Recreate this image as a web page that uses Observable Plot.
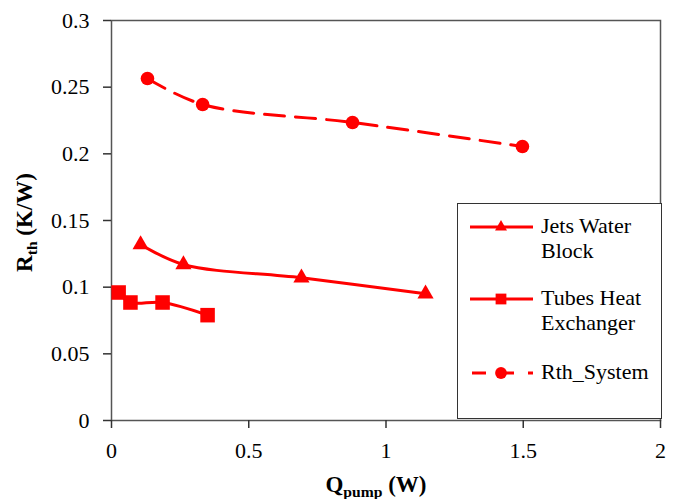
<!DOCTYPE html>
<html>
<head>
<meta charset="utf-8">
<script src="https://cdn.jsdelivr.net/npm/d3@7"></script>
<script src="https://cdn.jsdelivr.net/npm/@observablehq/plot@0.6"></script>
<style>
  html, body { margin: 0; padding: 0; background: #fff; font-family: "Liberation Serif"; }
  #wrap { position: relative; width: 673px; height: 499px; font-family: "Liberation Serif"; color: #000; }
  #wrap svg text { font-family: "Liberation Serif"; }
  .ttl { position: absolute; font-weight: bold; font-size: 23px; line-height: 25px; white-space: nowrap; text-align: center; }
  .sub { font-size: 0.68em; position: relative; top: 5px; }
  #legend { position: absolute; left: 457px; top: 203px; width: 205px; height: 216px; box-sizing: border-box;
            border: 1.5px solid #333; background: #fff; }
  #legend .lt { position: absolute; left: 83px; font-size: 22px; line-height: 25px; white-space: nowrap; }
  #legend svg { position: absolute; left: 0; top: 0; }
</style>
</head>
<body>
<div id="wrap"></div>
<script>
// ---- data ----
const jetsQ = [0.106, 0.262, 0.692, 1.144];
const jetsR = [0.132, 0.117, 0.107, 0.095];
const tubesQ = [0.026, 0.069, 0.186, 0.350];
const tubesR = [0.096, 0.0885, 0.0885, 0.079];
const sysQ = [0.131, 0.332, 0.878, 1.497];
const sysR = [0.2565, 0.237, 0.2235, 0.2055];
const seriesNames = ["Jets Water Block", "Tubes Heat Exchanger", "Rth_System"];
const legendLines = [["Jets Water", "Block"], ["Tubes Heat", "Exchanger"], ["Rth_System"]];
const xTicks = [0, 0.5, 1, 1.5, 2];
const yTicks = [0, 0.05, 0.1, 0.15, 0.2, 0.25, 0.3];
const xLabel = ["Q", "pump", " (W)"];
const yLabel = ["R", "th", " (K/W)"];

const toRows = (q, r, s) => q.map((v, i) => ({q: v, r: r[i], s}));
const jets = toRows(jetsQ, jetsR, seriesNames[0]);
const tubes = toRows(tubesQ, tubesR, seriesNames[1]);
const sys = toRows(sysQ, sysR, seriesNames[2]);

const RED = "#ff0000";
const FONT = "Liberation Serif";
const wrap = d3.select("#wrap");

const plot = Plot.plot({
  width: 673, height: 499,
  marginLeft: 111, marginRight: 13, marginTop: 20, marginBottom: 79,
  style: {fontFamily: FONT, fontSize: "22px"},
  x: {domain: [0, 2], ticks: xTicks},
  y: {domain: [0, 0.3], ticks: yTicks},
  marks: [
    Plot.frame({stroke: "#555", strokeWidth: 1.5}),
    Plot.axisX({ticks: xTicks, tickSize: 8, tickPadding: 14, fontSize: 22, label: null, stroke: "#333", strokeWidth: 1.5, tickFormat: d => String(d)}),
    Plot.axisY({ticks: yTicks, tickSize: 8, tickPadding: 14, fontSize: 22, label: null, stroke: "#333", strokeWidth: 1.5, tickFormat: d => String(+d.toFixed(2))}),
    Plot.line(sys, {x: "q", y: "r", stroke: RED, strokeWidth: 3, strokeDasharray: "20,11", curve: "catmull-rom"}),
    Plot.line(jets, {x: "q", y: "r", stroke: RED, strokeWidth: 3, curve: "catmull-rom"}),
    Plot.line(tubes, {x: "q", y: "r", stroke: RED, strokeWidth: 3, curve: "catmull-rom"}),
    Plot.dot(sys, {x: "q", y: "r", fill: RED, r: 6.8, symbol: "circle"}),
    Plot.dot(jets, {x: "q", y: "r", fill: RED, r: 6, symbol: "triangle"}),
    Plot.dot(tubes, {x: "q", y: "r", fill: RED, r: 8.2, symbol: "square"})
  ]
});
wrap.node().appendChild(plot);

// axis titles (HTML, with subscripts)
function title(parts) {
  const d = wrap.append("div").attr("class", "ttl");
  d.append("span").text(parts[0]);
  d.append("span").attr("class", "sub").text(parts[1]);
  d.append("span").text(parts[2]);
  return d;
}
title(xLabel).style("left", "276px").style("width", "200px").style("top", "472px");
title(yLabel).style("left", "-75px").style("width", "200px").style("top", "209px")
  .style("transform", "rotate(-90deg)");

// legend
const lg = wrap.append("div").attr("id", "legend");
const ls = lg.append("svg").attr("width", 205).attr("height", 216);
const rowsY = [23, 95, 169];
const syms = [d3.symbolTriangle, d3.symbolSquare, d3.symbolCircle];
const symSize = [Math.PI * 36 * 0.55, Math.PI * 8.2 * 8.2 * 0.55, Math.PI * 6.8 * 6.8 * 0.75];
const dashes = [null, null, "14,14"];
rowsY.forEach((y, i) => {
  const ln = ls.append("line").attr("x1", 12).attr("x2", 75).attr("y1", y).attr("y2", y)
    .attr("stroke", RED).attr("stroke-width", 3);
  if (dashes[i]) ln.attr("stroke-dasharray", dashes[i]).attr("stroke-dashoffset", -2);
  ls.append("path").attr("d", d3.symbol(syms[i], symSize[i])()).attr("transform", `translate(43,${y})`).attr("fill", RED);
  legendLines[i].forEach((s, j) => {
    lg.append("div").attr("class", "lt").style("top", `${y - 14 + j * 25}px`).text(s);
  });
});
</script>
</body>
</html>
